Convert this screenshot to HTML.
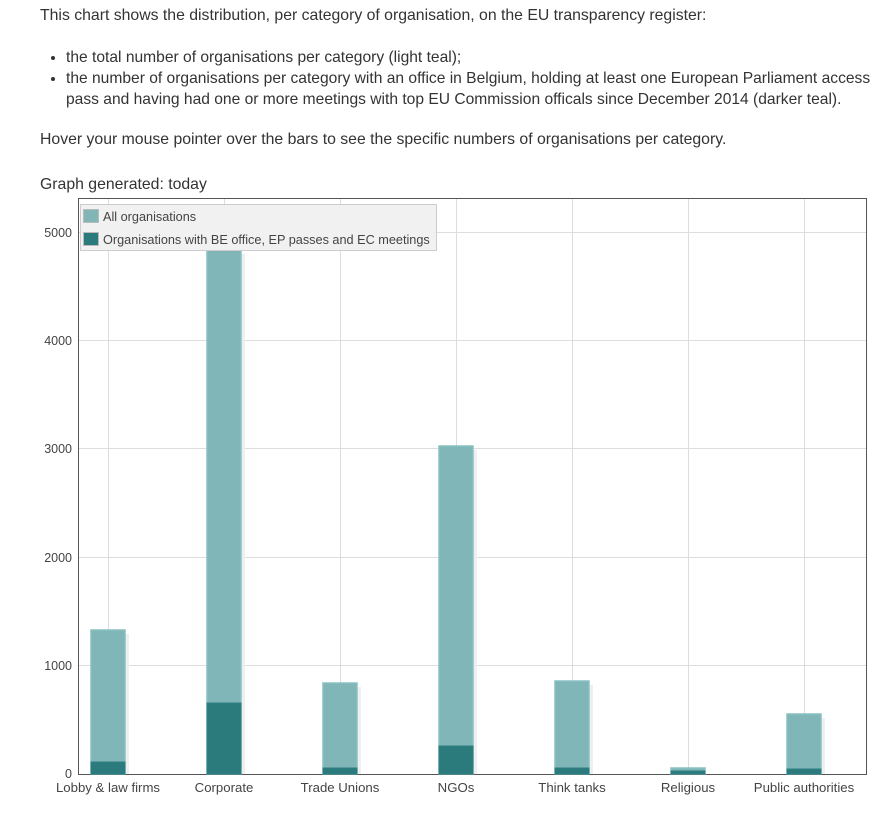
<!DOCTYPE html>
<html><head><meta charset="utf-8"><style>
body{margin:0;background:#fff;width:896px;height:832px;overflow:hidden;font-family:"Liberation Sans",sans-serif;color:#333}
.t{position:absolute;left:40px;font-size:15.8px;color:#333;white-space:nowrap}
ul{position:absolute;left:40px;top:47px;margin:0;padding-left:26px;font-size:15.6px;line-height:21px;width:840px;white-space:nowrap}
</style></head><body>
<div class="t" style="top:7px">This chart shows the distribution, per category of organisation, on the EU transparency register:</div>
<ul><li>the total number of organisations per category (light teal);</li>
<li>the number of organisations per category with an office in Belgium, holding at least one European Parliament access<br>pass and having had one or more meetings with top EU Commission officals since December 2014 (darker teal).</li></ul>
<div class="t" style="top:131px">Hover your mouse pointer over the bars to see the specific numbers of organisations per category.</div>
<div class="t" style="top:176px">Graph generated: today</div>
<svg width="896" height="832" style="position:absolute;left:0;top:0" font-family="Liberation Sans,sans-serif">
<g stroke="#ddd" stroke-width="1">
<line x1="78" x2="866" y1="665.5" y2="665.5"/><line x1="78" x2="866" y1="557.5" y2="557.5"/>
<line x1="78" x2="866" y1="448.5" y2="448.5"/><line x1="78" x2="866" y1="340.5" y2="340.5"/>
<line x1="78" x2="866" y1="232.5" y2="232.5"/>
<line x1="108.5" x2="108.5" y1="198" y2="774"/><line x1="224.5" x2="224.5" y1="198" y2="774"/>
<line x1="340.5" x2="340.5" y1="198" y2="774"/><line x1="456.5" x2="456.5" y1="198" y2="774"/>
<line x1="572.5" x2="572.5" y1="198" y2="774"/><line x1="688.5" x2="688.5" y1="198" y2="774"/>
<line x1="804.5" x2="804.5" y1="198" y2="774"/>
</g>
<rect x="78.5" y="198.5" width="788" height="576" fill="none" stroke="#555"/>
<g font-size="12.5" fill="#444" text-anchor="end">
<text x="72" y="778">0</text><text x="72" y="670">1000</text><text x="72" y="562">2000</text>
<text x="72" y="453">3000</text><text x="72" y="345">4000</text><text x="72" y="237">5000</text>
</g>
<g font-size="13.2" fill="#444" text-anchor="middle">
<text x="108" y="792">Lobby &amp; law firms</text><text x="224" y="792">Corporate</text>
<text x="340" y="792">Trade Unions</text><text x="456" y="792">NGOs</text>
<text x="572" y="792">Think tanks</text><text x="688" y="792">Religious</text>
<text x="804" y="792">Public authorities</text>
</g>
<g fill="#eef0f0">
<rect x="125" y="634" width="4" height="140"/><rect x="241" y="254" width="4" height="520"/>
<rect x="357" y="687" width="4" height="87"/><rect x="473" y="450" width="4" height="324"/>
<rect x="589" y="685" width="4" height="89"/><rect x="821" y="718" width="4" height="56"/>
</g>
<g fill="#80b6b8" stroke="#88c0c2" stroke-width="1.5">
<rect x="91" y="630" width="34" height="144"/><rect x="207" y="250" width="34" height="524"/>
<rect x="323" y="683" width="34" height="91"/><rect x="439" y="446" width="34" height="328"/>
<rect x="555" y="681" width="34" height="93"/><rect x="671" y="768" width="34" height="6"/>
<rect x="787" y="714" width="34" height="60"/>
</g>
<g fill="#2b7a7c" stroke="#2f8083" stroke-width="1">
<rect x="91" y="762" width="34" height="12"/><rect x="207" y="703" width="34" height="71"/>
<rect x="323" y="768" width="34" height="6"/><rect x="439" y="746" width="34" height="28"/>
<rect x="555" y="768" width="34" height="6"/><rect x="671" y="771" width="34" height="3"/>
<rect x="787" y="769" width="34" height="5"/>
</g>
<rect x="80.5" y="204.5" width="356" height="46" fill="#f1f1f1" stroke="#ccc"/>
<rect x="83.5" y="209.5" width="15" height="13" fill="#80b6b8" stroke="#bbb"/>
<rect x="83.5" y="232.5" width="15" height="13" fill="#2b7a7c" stroke="#bbb"/>
<g font-size="12.7" fill="#444"><text x="103" y="221">All organisations</text>
<text x="103" y="244">Organisations with BE office, EP passes and EC meetings</text></g>
</svg>
</body></html>
